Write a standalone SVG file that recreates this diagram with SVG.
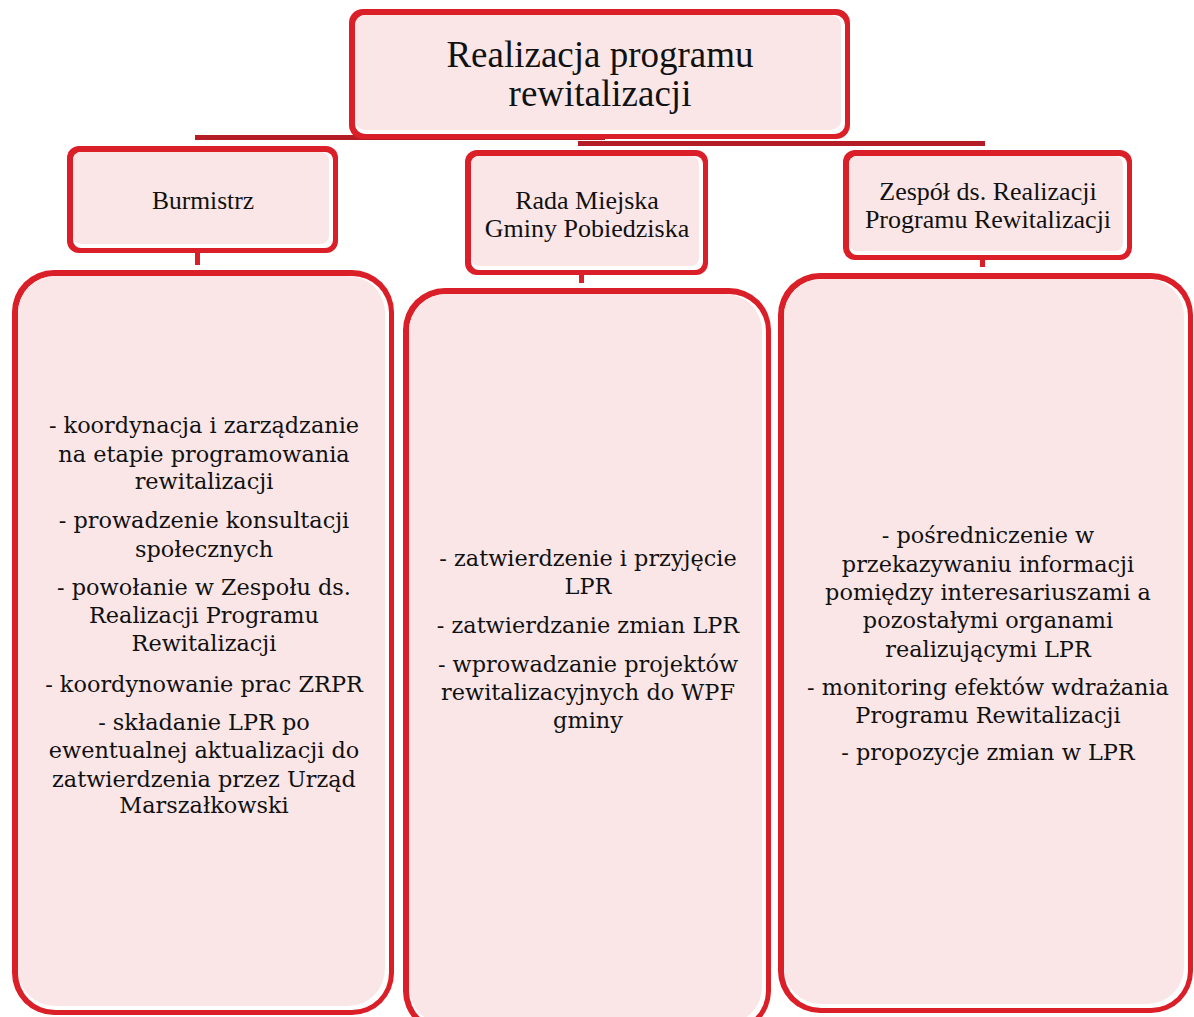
<svg xmlns="http://www.w3.org/2000/svg" width="1194" height="1017" viewBox="0 0 1194 1017">
<style>
.o{fill:#DA1F28}
.w{fill:#FFFFFF}
.p{fill:#FAE6E7}
.bar{fill:#B51D26}
.h{font-family:"Liberation Serif","Times New Roman",serif;fill:#111;text-anchor:middle}
.b{font-family:"DejaVu Serif",Cambria,serif;font-size:22.4px;fill:#111;text-anchor:middle}
</style>
<rect width="1194" height="1017" fill="#fff"/>
<g id="connectors">
<rect class="bar" x="195" y="135" width="410" height="5"/>
<rect class="bar" x="578" y="141" width="407" height="5"/>
<rect class="o" x="195" y="250" width="5" height="15"/>
<rect class="o" x="579" y="272" width="5" height="11"/>
<rect class="o" x="980" y="257" width="5" height="10"/>
</g>
<g id="root">
<rect class="o" x="349" y="9" width="501" height="130" rx="14"/>
<rect class="w" x="355" y="15" width="490" height="119" rx="10"/>
<rect class="p" x="355" y="15" width="486" height="115" rx="10"/>
<text class="h" font-size="37" x="600" y="67">Realizacja programu</text>
<text class="h" font-size="37" x="600" y="106">rewitalizacji</text>
</g>
<g id="burmistrz">
<rect class="o" x="67" y="146" width="271" height="107" rx="12"/>
<rect class="w" x="73" y="152" width="260" height="96" rx="8"/>
<rect class="p" x="73" y="152" width="256" height="92" rx="8"/>
<text class="h" font-size="25.5" x="203" y="209">Burmistrz</text>
</g>
<g id="rada">
<rect class="o" x="465" y="150" width="243" height="125" rx="12"/>
<rect class="w" x="471" y="156" width="232" height="114" rx="8"/>
<rect class="p" x="471" y="156" width="228" height="110" rx="8"/>
<text class="h" font-size="26" x="587" y="209">Rada Miejska</text>
<text class="h" font-size="26" x="587" y="237">Gminy Pobiedziska</text>
</g>
<g id="zespol">
<rect class="o" x="843" y="150" width="289" height="110" rx="12"/>
<rect class="w" x="849" y="156" width="278" height="99" rx="8"/>
<rect class="p" x="849" y="156" width="274" height="95" rx="8"/>
<text class="h" font-size="26" x="988" y="200">Zespół ds. Realizacji</text>
<text class="h" font-size="26" x="988" y="228">Programu Rewitalizacji</text>
</g>
<g id="zadania-burmistrz">
<rect class="o" x="12" y="270" width="382" height="745" rx="42"/>
<rect class="w" x="18" y="276" width="371" height="734" rx="37"/>
<rect class="p" x="18" y="276" width="367" height="730" rx="37"/>
<text class="b" x="204" y="433">- koordynacja i zarządzanie</text>
<text class="b" x="204" y="462">na etapie programowania</text>
<text class="b" x="204" y="489">rewitalizacji</text>
<text class="b" x="204" y="528">- prowadzenie konsultacji</text>
<text class="b" x="204" y="557">społecznych</text>
<text class="b" x="204" y="595">- powołanie w Zespołu ds.</text>
<text class="b" x="204" y="623">Realizacji Programu</text>
<text class="b" x="204" y="651">Rewitalizacji</text>
<text class="b" x="204" y="692">- koordynowanie prac ZRPR</text>
<text class="b" x="204" y="730">- składanie LPR po</text>
<text class="b" x="204" y="758">ewentualnej aktualizacji do</text>
<text class="b" x="204" y="787">zatwierdzenia przez Urząd</text>
<text class="b" x="204" y="813">Marszałkowski</text>
</g>
<g id="zadania-rada">
<rect class="o" x="403" y="288" width="368" height="745" rx="42"/>
<rect class="w" x="409" y="294" width="357" height="734" rx="37"/>
<rect class="p" x="409" y="294" width="353" height="730" rx="37"/>
<text class="b" x="588" y="566">- zatwierdzenie i przyjęcie</text>
<text class="b" x="588" y="594">LPR</text>
<text class="b" x="588" y="633">- zatwierdzanie zmian LPR</text>
<text class="b" x="588" y="672">- wprowadzanie projektów</text>
<text class="b" x="588" y="700">rewitalizacyjnych do WPF</text>
<text class="b" x="588" y="728">gminy</text>
</g>
<g id="zadania-zespol">
<rect class="o" x="778" y="273" width="415" height="740" rx="42"/>
<rect class="w" x="784" y="279" width="404" height="729" rx="37"/>
<rect class="p" x="784" y="279" width="400" height="725" rx="37"/>
<text class="b" x="988" y="543">- pośredniczenie w</text>
<text class="b" x="988" y="572">przekazywaniu informacji</text>
<text class="b" x="988" y="600">pomiędzy interesariuszami a</text>
<text class="b" x="988" y="628">pozostałymi organami</text>
<text class="b" x="988" y="657">realizującymi LPR</text>
<text class="b" x="988" y="695">- monitoring efektów wdrażania</text>
<text class="b" x="988" y="723">Programu Rewitalizacji</text>
<text class="b" x="988" y="760">- propozycje zmian w LPR</text>
</g>
</svg>
